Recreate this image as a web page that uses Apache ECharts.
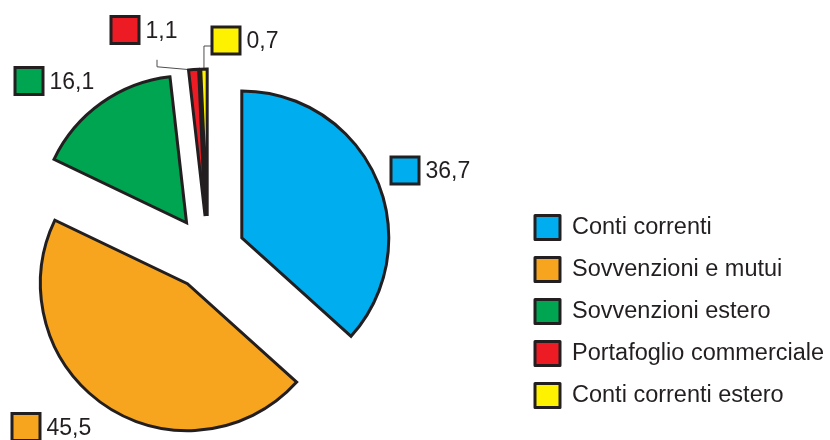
<!DOCTYPE html>
<html>
<head>
<meta charset="utf-8">
<script src="https://cdn.jsdelivr.net/npm/echarts@6/dist/echarts.min.js"></script>
<style>
  html, body { margin: 0; padding: 0; background: #ffffff; }
  #main { width: 830px; height: 440px; }
</style>
</head>
<body>
<div id="main"></div>
<script>
// Composizione degli impieghi (valori percentuali)
const categories = ['Conti correnti', 'Sovvenzioni e mutui', 'Sovvenzioni estero', 'Portafoglio commerciale', 'Conti correnti estero'];
const values = [36.7, 45.5, 16.1, 1.1, 0.7];
const colors = ['#00aeef', '#f7a51e', '#00a551', '#ed1c24', '#fff200'];

const INK = '#231f20';
const FONT = '"Liberation Sans", Arial, Helvetica, sans-serif';

// Where each value label (colour chip + number) sits: left edge, vertical centre
const labelAnchors = [[392.5, 170.5], [13.5, 427], [16.5, 81], [112.5, 30], [213.5, 40.5]];

const PIE_CENTER = [208, 253];
const PIE_RADIUS = 147;
const EXPLODE = 37;

const chart = echarts.init(document.getElementById('main'), null, { renderer: 'canvas' });

const fmt = v => v.toFixed(1).replace('.', ',');
const total = values.reduce((a, b) => a + b, 0);

const rich = { gap: { width: 8 }, v: { fontSize: 23, fontFamily: FONT, color: INK, lineHeight: 28, padding: [3, 0, 0, 0] } };
colors.forEach((c, i) => {
  rich['c' + i] = { width: 25, height: 24, backgroundColor: c, borderColor: INK, borderWidth: 3 };
});

// Each slice is pulled out along its own bisector: one pie per slice,
// sharing the same values so the angles line up, showing only that slice.
function explodedCenter(i) {
  const before = values.slice(0, i).reduce((a, b) => a + b, 0);
  const mid = (before + values[i] / 2) / total * 2 * Math.PI; // clockwise from 12 o'clock
  return [PIE_CENTER[0] + EXPLODE * Math.sin(mid), PIE_CENTER[1] - EXPLODE * Math.cos(mid)];
}

// Point on the outer edge of slice i, at a fraction of its sweep
function slicePoint(i, frac) {
  const lay = chart.getModel().getSeriesByIndex(i).getData().getItemLayout(i);
  const a = lay.startAngle + (lay.endAngle - lay.startAngle) * frac;
  return [lay.cx + lay.r * Math.cos(a), lay.cy + lay.r * Math.sin(a)];
}

// Leader routes for the two thin slices
const leaderRoutes = {
  3: (ax, ay) => {
    const s = slicePoint(3, 0.25);
    return [s, [ax + 44.5, s[1] - 3], [ax + 44.5, s[1] - 10]];
  },
  4: (ax, ay) => {
    const s = slicePoint(4, 0.5);
    return [s, [s[0], ay + 5.5], [ax - 1.5, ay + 5.5]];
  }
};

const series = categories.map((_, i) => ({
  type: 'pie',
  name: categories[i],
  center: explodedCenter(i),
  radius: PIE_RADIUS,
  startAngle: 90,
  clockwise: true,
  silent: true,
  avoidLabelOverlap: false,
  legendHoverLink: false,
  emphasis: { disabled: true },
  label: { show: false },
  labelLine: { show: false },
  labelLayout: function (p) {
    const [ax, ay] = labelAnchors[i];
    const out = { x: ax, y: ay, align: 'left', verticalAlign: 'middle' };
    if (leaderRoutes[i]) out.labelLinePoints = leaderRoutes[i](ax, ay);
    return out;
  },
  data: categories.map((name, j) => j === i ? {
    name,
    value: values[j],
    itemStyle: { color: colors[j], borderColor: INK, borderWidth: 3, borderJoin: 'miter' },
    label: {
      show: true,
      position: 'outside',
      formatter: () => `{c${j}| }{gap| }{v|${fmt(values[j])}}`,
      rich
    },
    labelLine: { show: !!leaderRoutes[j], lineStyle: { color: '#4d4d4d', width: 1 } }
  } : {
    name,
    value: values[j],
    itemStyle: { color: 'rgba(0,0,0,0)', borderWidth: 0 },
    label: { show: false },
    labelLine: { show: false }
  })
}));

chart.setOption({
  animation: false,
  legend: {
    orient: 'vertical',
    left: 533.5,
    top: 214,
    padding: 0,
    icon: 'rect',
    itemWidth: 25,
    itemHeight: 24,
    itemGap: 15,
    selectedMode: false,
    itemStyle: { borderColor: INK, borderWidth: 3 },
    textStyle: { fontSize: 23.5, fontFamily: FONT, color: INK, lineHeight: 24, padding: [0, 0, 0, 7] },
    data: categories.map((name, i) => ({ name, itemStyle: { color: colors[i], borderColor: INK, borderWidth: 3 } }))
  },
  series
});
</script>
</body>
</html>
